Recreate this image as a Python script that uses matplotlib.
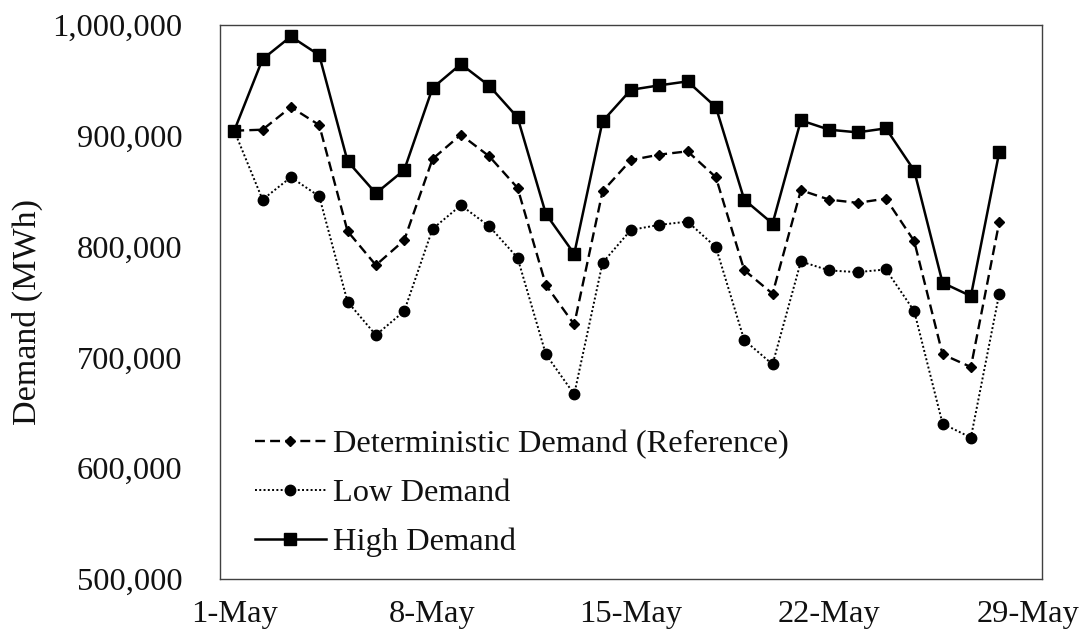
import matplotlib
matplotlib.use("Agg")
import matplotlib.pyplot as plt
from matplotlib.ticker import FuncFormatter
import numpy as np

plt.rcParams['font.family'] = ['Liberation Serif', 'DejaVu Serif']

# days of May 2021 (1..28)
days = np.arange(1, 29)

# daily demand, MWh
deterministic = [904500, 905400, 925800, 909600, 813800, 783200, 805700, 879000,
                 900900, 881400, 852900, 765200, 729700, 849800, 878000, 882900,
                 885900, 862500, 778700, 757400, 850800, 842300, 839400, 843200,
                 804800, 702700, 691300, 821900]
low = [904500, 842300, 862500, 845300, 750200, 720100, 741700, 815900,
       837200, 818300, 789800, 702700, 666700, 785300, 815000, 819500,
       822500, 799400, 715600, 693700, 786500, 778400, 776900, 779300,
       741700, 640200, 627600, 757400]
high = [904500, 969000, 989500, 972700, 877000, 848000, 869000, 943000,
        964600, 945000, 916500, 829400, 793400, 913000, 941400, 945400,
        949000, 925800, 842300, 820700, 913800, 905400, 903000, 906600,
        868500, 767300, 755300, 885000]

tick_days = [1, 8, 15, 22, 29]
tick_labels = ['1-May', '8-May', '15-May', '22-May', '29-May']

fig = plt.figure(figsize=(10.84, 6.37), dpi=100)
ax = fig.add_axes([0.203, 0.091, 0.758, 0.870])

ax.plot(days, deterministic, color='black', lw=1.7, dashes=(4.2, 2.2),
        marker='D', markersize=5.5, label='Deterministic Demand (Reference)')
ax.plot(days, low, color='black', lw=1.4, linestyle=(0, (1, 1.2)),
        marker='o', markersize=7.5, label='Low Demand')
ax.plot(days, high, color='black', lw=1.8, linestyle='-',
        marker='s', markersize=8.5, label='High Demand')

ax.set_xlim(0.5, 29.5)
ax.set_ylim(500000, 1000000)
ax.set_xticks(tick_days)
ax.set_xticklabels(tick_labels)
ax.set_yticks(np.arange(500000, 1000001, 100000))
ax.yaxis.set_major_formatter(FuncFormatter(lambda v, p: f'{int(v):,}'))

ax.tick_params(axis='both', length=0, labelsize=23.4, colors='#111111')
ax.tick_params(axis='y', pad=27)
ax.tick_params(axis='x', pad=15)

for s in ax.spines.values():
    s.set_color('#404040')
    s.set_linewidth(1.0)

ax.set_ylabel('Demand (MWh)', fontsize=24.5, color='#111111')
ax.yaxis.set_label_coords(-0.2153, 0.482)

leg = ax.legend(loc='upper left', bbox_to_anchor=(0.038, 0.276), frameon=True,
                fontsize=23.4, handlelength=2.2, handletextpad=0.2,
                labelspacing=0.59, borderaxespad=0, borderpad=0.1)
leg.get_frame().set_edgecolor('none')
leg.get_frame().set_facecolor('white')
leg.get_frame().set_alpha(1)
for t in leg.get_texts():
    t.set_color('#111111')

fig.savefig('out.png', dpi=100)
